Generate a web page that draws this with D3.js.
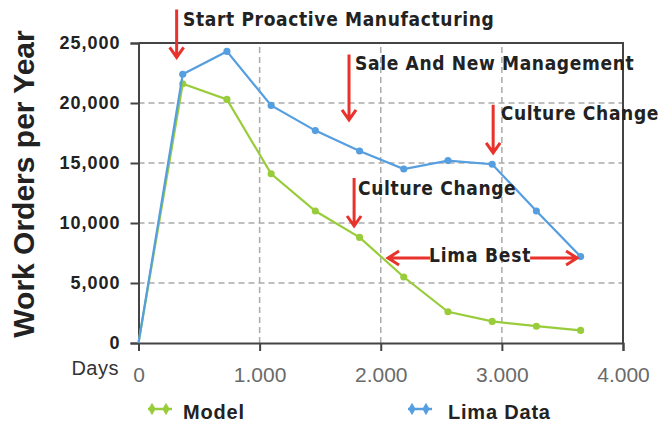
<!DOCTYPE html>
<html>
<head>
<meta charset="utf-8">
<script src="https://cdn.jsdelivr.net/npm/d3@7"></script>
<style>
  body { margin: 0; background: #fff; }
  svg { display: block; }
</style>
</head>
<body>
<div id="chart"></div>
<script>
/* CONSTANTS AND GLOBALS */
const width = 658,
  height = 425,
  margin = { top: 43, bottom: 82, left: 138.5, right: 35 };

// days since start (one point per year)
const days = [0, 365, 730, 1095, 1460, 1825, 2190, 2555, 2920, 3285, 3650];
const modelValues = [0, 21600, 20300, 14100, 11000, 8800, 5500, 2600, 1800, 1400, 1050];
const limaValues = [0, 22400, 24300, 19800, 17700, 16000, 14500, 15200, 14900, 11000, 7200];

const yTicks = [0, 5000, 10000, 15000, 20000, 25000];
const xTicks = [0, 1000, 2000, 3000, 4000];
const xTickLabels = ["0", "1.000", "2.000", "3.000", "4.000"];

// annotations (in data units: day, work orders)
const downArrows = [
  { x: 315, y1: 27800, y2: 23800 },
  { x: 1738, y1: 24050, y2: 18600 },
  { x: 2928, y1: 19850, y2: 15850 },
  { x: 1780, y1: 13750, y2: 9750 }
];
const notes = [
  { x: 367, y: 26440, text: "Start Proactive Manufacturing" },
  { x: 1788, y: 22770, text: "Sale And New Management" },
  { x: 2991, y: 18600, text: "Culture Change" },
  { x: 1813, y: 12330, text: "Culture Change" }
];
const sideArrows = [
  { x1: 2408, x2: 2060, y: 7080 },
  { x1: 3233, x2: 3621, y: 7080 }
];
const bestLabel = { x: 2820, y: 6740, text: "Lima Best" };

const green = "#99cc3a",
  blue = "#559ee0",
  red = "#e8322b";

const svg = d3.select("#chart")
  .append("svg")
  .attr("width", width)
  .attr("height", height);

// + SCALES
const xScale = d3.scaleLinear()
  .domain([0, 4000])
  .range([margin.left, width - margin.right]);
const yScale = d3.scaleLinear()
  .domain([0, 25000])
  .range([height - margin.bottom, margin.top]);

// grid
svg.append("g")
  .selectAll("line")
  .data(yTicks.slice(1, -1))
  .join("line")
  .attr("x1", xScale(0))
  .attr("x2", xScale(4000))
  .attr("y1", d => yScale(d))
  .attr("y2", d => yScale(d))
  .attr("stroke", "#aaa")
  .attr("stroke-width", 1.5)
  .attr("stroke-dasharray", "6,4");

svg.append("g")
  .selectAll("line")
  .data(xTicks.slice(1, -1))
  .join("line")
  .attr("x1", d => xScale(d))
  .attr("x2", d => xScale(d))
  .attr("y1", yScale(0))
  .attr("y2", yScale(25000))
  .attr("stroke", "#aaa")
  .attr("stroke-width", 1.5)
  .attr("stroke-dasharray", "6,4");

// frame top / right
svg.append("path")
  .attr("d", `M${xScale(0)},${yScale(25000)}H${xScale(4000)}V${yScale(0)}`)
  .attr("fill", "none")
  .attr("stroke", "#444")
  .attr("stroke-width", 2);

// + AXES
const xAxis = d3.axisBottom(xScale)
  .tickValues(xTicks)
  .tickSize(8)
  .tickPadding(16)
  .tickFormat((d, i) => xTickLabels[i]);
const yAxis = d3.axisLeft(yScale)
  .tickValues(yTicks)
  .tickSize(8)
  .tickPadding(10)
  .tickFormat(d3.format(","));

const xAxisGroup = svg.append("g")
  .attr("transform", `translate(0, ${yScale(0)})`)
  .call(xAxis);
xAxisGroup.select(".domain").attr("stroke", "#444").attr("stroke-width", 2);
xAxisGroup.selectAll(".tick line").attr("stroke", "#444").attr("stroke-width", 2);
xAxisGroup.selectAll("text")
  .attr("font-family", "'Liberation Sans Narrow', 'Liberation Sans', sans-serif")
  .attr("font-size", 21)
  .attr("fill", "#6a6a6a");

const yAxisGroup = svg.append("g")
  .attr("transform", `translate(${xScale(0)}, 0)`)
  .call(yAxis);
yAxisGroup.select(".domain").attr("stroke", "#444").attr("stroke-width", 2);
yAxisGroup.selectAll(".tick line").attr("stroke", "#444").attr("stroke-width", 2);
yAxisGroup.selectAll("text")
  .attr("font-family", "'Liberation Sans', Arial, sans-serif")
  .attr("font-weight", "bold")
  .attr("font-size", 18)
  .attr("letter-spacing", "1px")
  .attr("fill", "#222");

svg.append("text")
  .attr("transform", `translate(34, 184) rotate(-90)`)
  .attr("text-anchor", "middle")
  .attr("font-family", "'Liberation Sans', Arial, sans-serif")
  .attr("font-weight", "bold")
  .attr("font-size", 30)
  .attr("fill", "#222")
  .text("Work Orders per Year");

svg.append("text")
  .attr("x", 119)
  .attr("y", 375)
  .attr("text-anchor", "end")
  .attr("font-family", "'Liberation Sans', Arial, sans-serif")
  .attr("font-size", 20)
  .attr("letter-spacing", "0.5px")
  .attr("fill", "#333")
  .text("Days");

// + LINES
const lineGen = (vals) => d3.line()
  .x((d, i) => xScale(days[i]))
  .y(d => yScale(d))(vals);

const series = [
  { name: "Model", values: modelValues, color: green },
  { name: "Lima Data", values: limaValues, color: blue }
];

series.forEach(s => {
  svg.append("path")
    .attr("d", lineGen(s.values))
    .attr("fill", "none")
    .attr("stroke", s.color)
    .attr("stroke-width", 2.2);
  svg.append("g")
    .selectAll("path")
    .data(s.values.slice(1))
    .join("path")
    .attr("transform", (d, i) => `translate(${xScale(days[i + 1])}, ${yScale(d)})`)
    .attr("d", d3.symbol(d3.symbolCircle, 40))
    .attr("fill", s.color);
});

// + ANNOTATIONS
const noteFont = "'DejaVu Sans Condensed', 'DejaVu Sans', sans-serif";

downArrows.forEach(a => {
  const x = xScale(a.x), y1 = yScale(a.y1), y2 = yScale(a.y2);
  svg.append("path")
    .attr("d", `M${x},${y1}V${y2 - 1}M${x - 7},${y2 - 10}L${x},${y2}L${x + 7},${y2 - 10}`)
    .attr("fill", "none")
    .attr("stroke", red)
    .attr("stroke-width", 3);
});

sideArrows.forEach(a => {
  const x1 = xScale(a.x1), x2 = xScale(a.x2), y = yScale(a.y);
  const dir = x2 > x1 ? 1 : -1;
  svg.append("path")
    .attr("d", `M${x1},${y}H${x2}M${x2 - dir * 11},${y - 7}L${x2},${y}L${x2 - dir * 11},${y + 7}`)
    .attr("fill", "none")
    .attr("stroke", red)
    .attr("stroke-width", 3);
});

svg.append("g")
  .selectAll("text")
  .data(notes)
  .join("text")
  .attr("x", d => xScale(d.x))
  .attr("y", d => yScale(d.y))
  .attr("font-family", noteFont)
  .attr("font-weight", "bold")
  .attr("font-size", 19)
  .attr("letter-spacing", "0.65px")
  .attr("fill", "#222")
  .text(d => d.text);

svg.append("text")
  .attr("x", xScale(bestLabel.x))
  .attr("y", yScale(bestLabel.y))
  .attr("text-anchor", "middle")
  .attr("font-family", noteFont)
  .attr("font-weight", "bold")
  .attr("font-size", 19)
  .attr("letter-spacing", "0.8px")
  .attr("fill", "#222")
  .text(bestLabel.text);

// + LEGEND
const legendItems = [
  { name: "Model", color: green, x: 148, textX: 35 },
  { name: "Lima Data", color: blue, x: 408, textX: 40 }
];
const legend = svg.append("g")
  .selectAll("g")
  .data(legendItems)
  .join("g")
  .attr("transform", d => `translate(${d.x}, 409)`);

legend.append("line")
  .attr("x1", 0).attr("x2", 24)
  .attr("stroke", d => d.color)
  .attr("stroke-width", 2.5);
legend.selectAll(".mk")
  .data(d => [{ c: d.color, x: 4 }, { c: d.color, x: 18 }])
  .join("path")
  .attr("class", "mk")
  .attr("transform", d => `translate(${d.x}, 0)`)
  .attr("d", d3.symbol(d3.symbolDiamond, 44))
  .attr("fill", d => d.c);
legend.append("text")
  .attr("x", d => d.textX)
  .attr("y", 10)
  .attr("font-family", "'Liberation Sans', Arial, sans-serif")
  .attr("font-weight", "bold")
  .attr("font-size", 20)
  .attr("letter-spacing", "0.8px")
  .attr("fill", "#222")
  .text(d => d.name);
</script>
</body>
</html>
